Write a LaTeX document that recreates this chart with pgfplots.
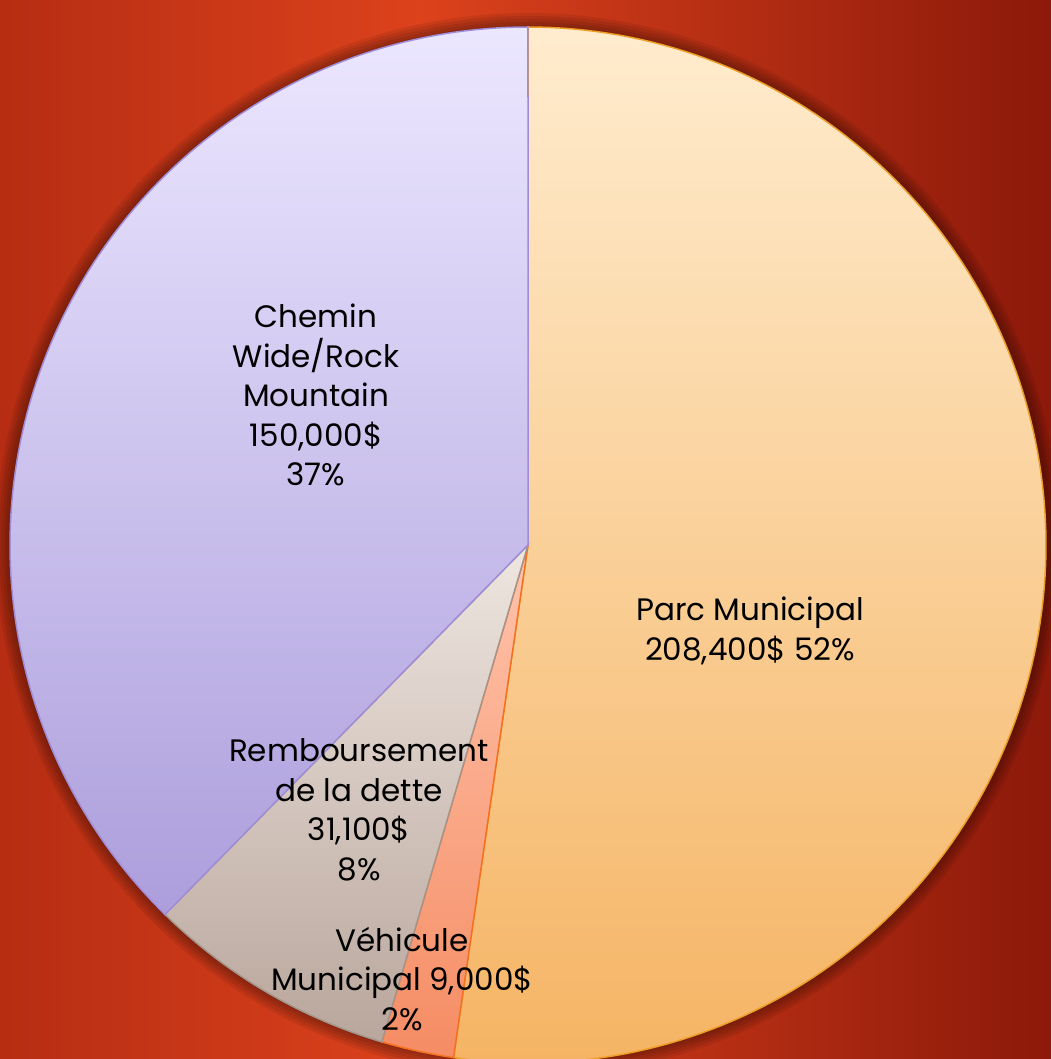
\documentclass[border=0pt]{standalone}
\usepackage{pgfplots}
\pgfplotsset{compat=1.18}
\usepackage{fontspec}
\setmainfont{Poppins}
\definecolor{bgL}{RGB}{182,45,19}
\definecolor{bgM}{RGB}{220,66,28}
\definecolor{bgR}{RGB}{140,25,10}
\definecolor{parcT}{RGB}{255,236,206}
\definecolor{parcB}{RGB}{245,180,100}
\definecolor{parcE}{RGB}{238,158,36}
\definecolor{vehT}{RGB}{255,196,172}
\definecolor{vehB}{RGB}{245,140,100}
\definecolor{vehE}{RGB}{245,112,30}
\definecolor{remT}{RGB}{238,230,224}
\definecolor{remB}{RGB}{185,166,156}
\definecolor{remE}{RGB}{165,148,138}
\definecolor{cheT}{RGB}{236,231,255}
\definecolor{cheB}{RGB}{172,158,220}
\definecolor{cheE}{RGB}{160,140,215}
\pgfdeclarehorizontalshading{bgshade}{100bp}{color(0bp)=(bgL); color(25bp)=(bgL); color(45bp)=(bgM); color(75bp)=(bgR); color(100bp)=(bgR)}
% values in thousands of dollars
\def\vParc{208.4}
\def\vVeh{9.0}
\def\vRem{31.1}
\def\vChe{150.0}
\pgfmathsetmacro\tot{\vParc+\vVeh+\vRem+\vChe}
\pgfmathsetmacro\aA{360*(\vParc/\tot)}
\pgfmathsetmacro\aB{\aA+360*(\vVeh/\tot)}
\pgfmathsetmacro\aC{\aB+360*(\vRem/\tot)}
\def\cx{528}
\def\cy{514}
\def\rr{518}
\begin{document}
\begin{tikzpicture}
\shade[shading=bgshade] (0,0) rectangle (1051pt,1059pt);
\begin{axis}[at={(0,0)}, anchor=south west, width=1051pt, height=1059pt,
  scale only axis, xmin=0, xmax=1051, ymin=0, ymax=1059, hide axis, clip=true]
% soft shadow
\foreach \d in {14,11,8,5,2}{
  \addplot[draw=none, fill=black, fill opacity=0.08, variable=\t, domain=0:360, samples=180]
    ({\cx+(\rr+\d)*sin(\t)}, {\cy+(\rr+\d)*cos(\t)}) -- cycle;
}
\addplot[draw=parcE, line width=1.5pt, top color=parcT, bottom color=parcB, variable=\t, domain=0:\aA, samples=150]
  ({\cx+\rr*sin(\t)}, {\cy+\rr*cos(\t)}) -- (\cx,\cy) -- cycle;
\addplot[draw=vehE, line width=1.5pt, top color=vehT, bottom color=vehB, variable=\t, domain=\aA:\aB, samples=20]
  ({\cx+\rr*sin(\t)}, {\cy+\rr*cos(\t)}) -- (\cx,\cy) -- cycle;
\addplot[draw=remE, line width=1.5pt, top color=remT, bottom color=remB, variable=\t, domain=\aB:\aC, samples=40]
  ({\cx+\rr*sin(\t)}, {\cy+\rr*cos(\t)}) -- (\cx,\cy) -- cycle;
\addplot[draw=cheE, line width=1.5pt, top color=cheT, bottom color=cheB, variable=\t, domain=\aC:360, samples=120]
  ({\cx+\rr*sin(\t)}, {\cy+\rr*cos(\t)}) -- (\cx,\cy) -- cycle;
\begin{scope}[every node/.style={align=center, font=\fontsize{31}{39.5}\selectfont, text=black, inner sep=0pt}]
\node at (axis cs:316,664) {Chemin\\Wide/Rock\\Mountain\\150,000\$\\37\%};
\node at (axis cs:750,428) {Parc Municipal\\208,400\$ 52\%};
\node at (axis cs:359,249) {Remboursement\\de la dette\\31,100\$\\8\%};
\node at (axis cs:402,80) {Véhicule\\Municipal 9,000\$\\2\%};
\end{scope}
\end{axis}
\end{tikzpicture}
\end{document}
